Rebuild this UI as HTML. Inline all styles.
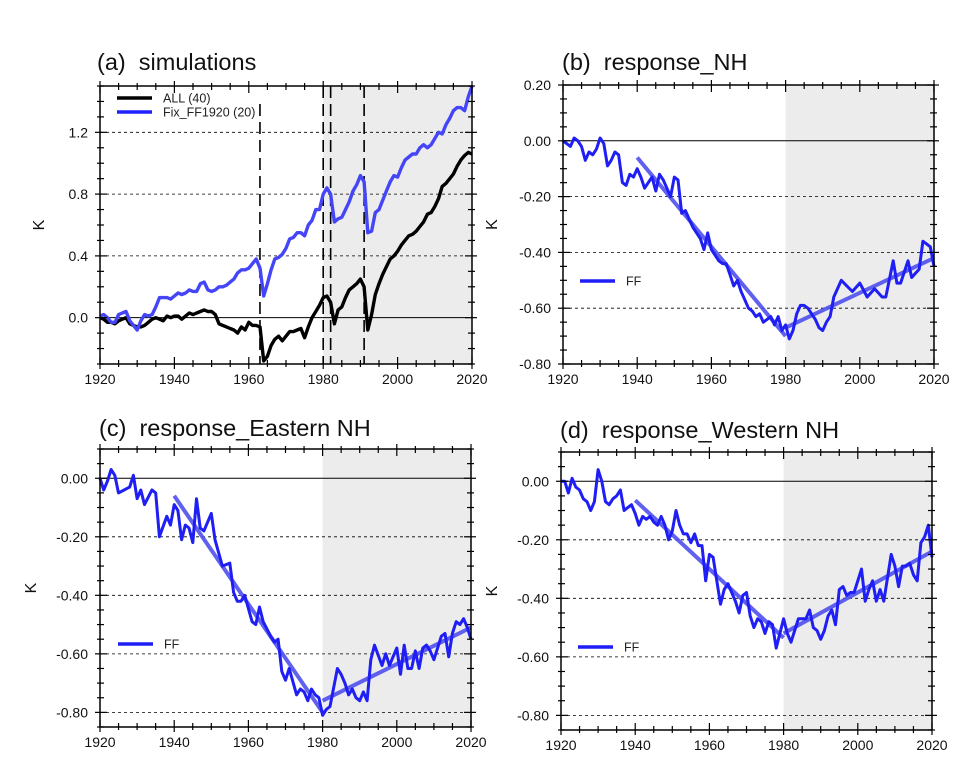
<!DOCTYPE html>
<html><head><meta charset="utf-8">
<style>
html,body{margin:0;padding:0;background:#fff;}
svg{display:block;font-family:"Liberation Sans",Arial,sans-serif;}
</style></head>
<body>
<svg id="fig" width="966" height="777" viewBox="0 0 966 777" xmlns="http://www.w3.org/2000/svg"></svg>
<script>
// ---- Panel (a) data ----
const yearsA = [1920,1921,1922,1923,1924,1925,1926,1927,1928,1929,1930,1931,1932,1933,1934,1935,1936,1937,1938,1939,1940,1941,1942,1943,1944,1945,1946,1947,1948,1949,1950,1951,1952,1953,1954,1955,1956,1957,1958,1959,1960,1961,1962,1963,1964,1965,1966,1967,1968,1969,1970,1971,1972,1973,1974,1975,1976,1977,1978,1979,1980,1981,1982,1983,1984,1985,1986,1987,1988,1989,1990,1991,1992,1993,1994,1995,1996,1997,1998,1999,2000,2001,2002,2003,2004,2005,2006,2007,2008,2009,2010,2011,2012,2013,2014,2015,2016,2017,2018,2019,2020];
const allValues = [0,-0.01,-0.03,-0.03,-0.04,-0.02,-0.01,0,-0.04,-0.05,-0.06,-0.06,-0.05,-0.03,-0.01,0,-0.01,-0.02,0.01,0,0.01,0.01,-0.01,0.01,0.03,0.02,0.03,0.04,0.05,0.04,0.04,0.02,-0.04,-0.05,-0.06,-0.07,-0.08,-0.1,-0.06,-0.08,-0.03,-0.05,-0.05,-0.06,-0.28,-0.25,-0.18,-0.14,-0.12,-0.15,-0.12,-0.09,-0.09,-0.08,-0.07,-0.13,-0.06,0.0,0.04,0.08,0.13,0.14,0.10,-0.04,0.05,0.07,0.13,0.18,0.2,0.22,0.25,0.2,-0.08,0.02,0.15,0.22,0.28,0.33,0.38,0.4,0.43,0.47,0.5,0.53,0.54,0.56,0.59,0.62,0.67,0.68,0.72,0.77,0.85,0.87,0.9,0.93,0.98,1.02,1.05,1.07,1.06];
const fixValues = [0.01,0.02,0.0,-0.03,-0.03,0.02,0.03,0.04,-0.02,-0.05,-0.08,-0.02,0.02,0.01,0.02,0.07,0.13,0.13,0.13,0.12,0.14,0.16,0.15,0.16,0.18,0.17,0.17,0.22,0.23,0.18,0.17,0.18,0.2,0.2,0.21,0.23,0.25,0.29,0.31,0.31,0.32,0.35,0.38,0.32,0.14,0.22,0.31,0.38,0.39,0.41,0.45,0.51,0.52,0.55,0.55,0.53,0.6,0.63,0.7,0.7,0.8,0.84,0.8,0.62,0.64,0.65,0.7,0.75,0.82,0.86,0.92,0.88,0.55,0.56,0.68,0.7,0.76,0.82,0.88,0.92,0.91,0.97,1.02,1.04,1.06,1.06,1.1,1.12,1.1,1.12,1.16,1.2,1.19,1.25,1.29,1.34,1.36,1.36,1.34,1.43,1.5];
const eruptionYears = [1963,1980,1982,1991];

// ---- Panel (b) NH ----
const yearsB = [1920,1921,1922,1923,1924,1925,1926,1927,1928,1929,1930,1931,1932,1933,1934,1935,1936,1937,1938,1939,1940,1941,1942,1943,1944,1945,1946,1947,1948,1949,1950,1951,1952,1953,1954,1955,1956,1957,1958,1959,1960,1961,1962,1963,1964,1965,1966,1967,1968,1969,1970,1971,1972,1973,1974,1975,1976,1977,1978,1979,1980,1981,1982,1983,1984,1985,1986,1987,1988,1989,1990,1991,1992,1993,1995,1996.5,1998,2000,2002,2004,2006,2007,2009,2010,2011,2013,2014,2016,2017,2019,2020];
const nhValues = [0,-0.01,-0.02,0.01,0,-0.02,-0.07,-0.04,-0.05,-0.03,0.01,-0.01,-0.09,-0.07,-0.04,-0.05,-0.15,-0.16,-0.12,-0.13,-0.1,-0.13,-0.17,-0.15,-0.13,-0.18,-0.12,-0.14,-0.17,-0.2,-0.13,-0.14,-0.26,-0.25,-0.28,-0.31,-0.33,-0.35,-0.39,-0.33,-0.39,-0.41,-0.43,-0.44,-0.44,-0.48,-0.52,-0.5,-0.54,-0.57,-0.6,-0.61,-0.63,-0.62,-0.65,-0.64,-0.63,-0.66,-0.63,-0.68,-0.66,-0.71,-0.68,-0.62,-0.59,-0.59,-0.6,-0.62,-0.64,-0.67,-0.68,-0.65,-0.63,-0.56,-0.5,-0.52,-0.54,-0.51,-0.56,-0.53,-0.56,-0.56,-0.43,-0.51,-0.51,-0.43,-0.49,-0.46,-0.36,-0.38,-0.45];
const nhTrendYears = [1940,1980,1980,2020];
const nhTrendValues = [-0.06,-0.70,-0.67,-0.42];

// ---- Panel (c) Eastern NH ----
const yearsC = [1920,1921,1922,1923,1924,1925,1926.5,1928,1929,1930,1931,1932,1934,1935,1936,1938,1939,1940,1941,1942,1943,1944,1945,1946,1947,1948,1950,1951,1953,1955,1956,1957,1958,1959,1961,1962,1963,1964,1966,1967,1968,1969,1970,1971,1973,1974,1975,1976,1977,1978,1979,1980,1981,1982,1984,1985,1986,1987,1988,1989,1990,1991,1992,1993,1994,1996,1997,1998,2000,2001,2002,2003,2004,2005,2006,2007,2008,2009,2010,2012,2013,2014,2015,2016,2017,2018,2019,2020];
const eastValues = [0,-0.04,-0.01,0.03,0.01,-0.05,-0.04,-0.03,0.01,-0.07,-0.04,-0.09,-0.04,-0.05,-0.2,-0.13,-0.16,-0.09,-0.11,-0.21,-0.16,-0.17,-0.22,-0.07,-0.17,-0.18,-0.12,-0.21,-0.3,-0.29,-0.39,-0.42,-0.42,-0.4,-0.49,-0.5,-0.44,-0.49,-0.54,-0.56,-0.55,-0.66,-0.69,-0.65,-0.74,-0.72,-0.73,-0.76,-0.72,-0.74,-0.75,-0.81,-0.79,-0.78,-0.65,-0.67,-0.7,-0.74,-0.72,-0.75,-0.76,-0.73,-0.76,-0.62,-0.57,-0.64,-0.6,-0.64,-0.58,-0.67,-0.57,-0.65,-0.65,-0.59,-0.65,-0.58,-0.57,-0.59,-0.62,-0.54,-0.53,-0.61,-0.53,-0.49,-0.5,-0.48,-0.51,-0.55];
const eastTrendYears = [1940,1980,1980,2020];
const eastTrendValues = [-0.06,-0.80,-0.76,-0.51];

// ---- Panel (d) Western NH ----
const yearsD = [1920,1921,1922,1923,1924,1925,1926,1927,1928,1929,1930,1931,1932,1933,1934,1935,1936,1937,1938,1939,1940,1941,1942,1943,1944,1945,1946,1947,1948,1949,1950,1951,1952,1953,1954,1955,1956,1957,1958,1959,1960,1961,1962,1963,1964,1965,1966,1967,1968,1969,1970,1971,1972,1973,1974,1975,1976,1977,1978,1979,1980,1981,1982,1983,1984,1985,1986,1987,1988,1989,1990,1991,1992,1993,1994,1995,1996,1997,1998,1999,2000,2001,2002,2003,2004,2005,2006,2007,2009,2010,2011,2012,2013,2014,2015,2016,2017,2018,2019,2020];
const westValues = [0,0,-0.04,0.01,-0.02,-0.03,-0.06,-0.07,-0.1,-0.07,0.04,0,-0.07,-0.08,-0.06,-0.05,-0.03,-0.1,-0.09,-0.08,-0.11,-0.15,-0.12,-0.13,-0.12,-0.14,-0.15,-0.12,-0.15,-0.2,-0.17,-0.1,-0.15,-0.18,-0.18,-0.21,-0.18,-0.22,-0.22,-0.34,-0.25,-0.26,-0.34,-0.42,-0.37,-0.35,-0.38,-0.41,-0.45,-0.39,-0.38,-0.46,-0.5,-0.47,-0.48,-0.52,-0.48,-0.49,-0.57,-0.52,-0.47,-0.52,-0.55,-0.51,-0.47,-0.47,-0.47,-0.44,-0.5,-0.51,-0.54,-0.51,-0.46,-0.44,-0.49,-0.37,-0.36,-0.39,-0.38,-0.38,-0.34,-0.3,-0.41,-0.37,-0.34,-0.41,-0.37,-0.41,-0.25,-0.29,-0.36,-0.29,-0.29,-0.28,-0.32,-0.34,-0.21,-0.19,-0.15,-0.26];
const westTrendYears = [1940,1980,1980,2020];
const westTrendValues = [-0.065,-0.535,-0.52,-0.24];

const xTickYears = [1920,1940,1960,1980,2000,2020];

const NS = "http://www.w3.org/2000/svg";
const svg = document.getElementById('fig');
function mk(tag, attrs, parent){
  const e = document.createElementNS(NS, tag);
  for (const k in attrs) e.setAttribute(k, attrs[k]);
  (parent||svg).appendChild(e);
  return e;
}

function panel(p){
  const g = mk('g', {});
  
  
  const sx = y => p.x0 + (y - 1920) / 100 * (p.x1 - p.x0);
  const sy = v => p.y0 + (p.vmax - v) / (p.vmax - p.vmin) * (p.y1 - p.y0);
  const sh = mk('rect', {x: sx(1980), y: p.y0, width: p.x1 - sx(1980), height: p.y1 - p.y0, fill: '#ececec'}, g);
  
  
  p.yTicks.forEach(v => {
    const l = mk('line', {x1: p.x0, x2: p.x1, y1: sy(v), y2: sy(v), stroke: '#000', 'stroke-width': Math.abs(v) < 1e-9 ? 1 : 0.8, 'stroke-dasharray': Math.abs(v) < 1e-9 ? '' : '3,3'}, g);
    
    
  });
  if (p.eruptions) p.eruptions.forEach(yr => {
    const l = mk('line', {x1: sx(yr), x2: sx(yr), y1: p.y0 + (yr === 1963 ? 18 : 0), y2: p.y1, stroke: '#000', 'stroke-width': 1.6, 'stroke-dasharray': '12,6'}, g);
    
    
  });
  p.series.forEach(s => {
    const d = s.years.map((yr, i) => (i ? 'L' : 'M') + sx(yr).toFixed(1) + ',' + sy(s.values[i]).toFixed(1)).join('');
    const pa = mk('path', {d: d, fill: 'none', stroke: s.color, 'stroke-width': s.w, 'stroke-linejoin': 'round', opacity: s.op || 1}, g);
    
    
  });
  const fr = mk('rect', {x: p.x0, y: p.y0, width: p.x1 - p.x0, height: p.y1 - p.y0, fill: 'none', stroke: '#000', 'stroke-width': 1.5}, g);
  
  
  for (let yr = 1920; yr <= 2020; yr += 5) {
    const major = yr % 20 === 0;
    const x = sx(yr);
    mk('line', {x1: x, x2: x, y1: p.y1 - (major ? 7 : 4), y2: p.y1 + (major ? 5 : 3), stroke: '#000', 'stroke-width': 1.2}, g);
    mk('line', {x1: x, x2: x, y1: p.y0 + (major ? 7 : 4), y2: p.y0 - (major ? 5 : 3), stroke: '#000', 'stroke-width': 1.2}, g);
  }
  xTickYears.forEach(yr => {
    const t = mk('text', {x: sx(yr), y: p.y1 + 20, 'font-size': 14, 'text-anchor': 'middle', fill: '#111'}, g);
    t.textContent = yr;
    
    
  });
  const nMinor = Math.round((p.vmax - p.vmin) / p.minorStep);
  for (let i = 0; i <= nMinor; i++) {
    const v = p.vmin + i * p.minorStep;
    const major = p.yTicks.some(t => Math.abs(t - v) < 1e-6);
    const y = sy(v);
    mk('line', {x1: p.x0 + (major ? 7 : 4), x2: p.x0 - (major ? 5 : 3), y1: y, y2: y, stroke: '#000', 'stroke-width': 1.2}, g);
    mk('line', {x1: p.x1 - (major ? 7 : 4), x2: p.x1 + (major ? 5 : 3), y1: y, y2: y, stroke: '#000', 'stroke-width': 1.2}, g);
  }
  p.yTicks.forEach((v, i) => {
    const t = mk('text', {x: p.x0 - 12, y: sy(v) + 5, 'font-size': 14, 'text-anchor': 'end', fill: '#111'}, g);
    t.textContent = p.yLabels[i];
    
    
  });
  const k = mk('text', {x: p.kx, y: (p.y0 + p.y1) / 2, 'font-size': 16, 'text-anchor': 'middle', transform: 'rotate(-90 ' + p.kx + ' ' + (p.y0 + p.y1) / 2 + ')', fill: '#111'}, g);
  k.textContent = 'K';
  
  
  const ti = mk('text', {x: p.tx, y: p.ty, 'font-size': 23.5, fill: '#111'}, g);
  ti.textContent = p.title;
  
  
  ti.setAttribute('xml:space', 'preserve');
  ti.style.whiteSpace = 'pre';
  p.legend.forEach(L => {
    const ll = mk('line', {x1: L.x, x2: L.x + 35, y1: L.y, y2: L.y, stroke: L.color, 'stroke-width': 3.4}, g);
    
    
    const lt = mk('text', {x: L.x + 46, y: L.y + 4.5, 'font-size': 12.5, fill: '#222'}, g);
    lt.textContent = L.text;
    
    
  });
}

const BLUE = '#1e1ef5';
const TREND = '#5050ee';

panel({name: 'panel-a-simulations', x0: 100, x1: 472, y0: 86, y1: 364, vmin: -0.3, vmax: 1.5,
  yTicks: [0, 0.4, 0.8, 1.2], yLabels: ['0.0', '0.4', '0.8', '1.2'], minorStep: 0.1,
  kx: 44, tx: 97, ty: 70, title: '(a)  simulations', eruptions: eruptionYears,
  series: [{name: 'all-series', years: yearsA, values: allValues, color: '#000', w: 3.4},
           {name: 'fix-ff1920-series', years: yearsA, values: fixValues, color: '#4545f8', w: 3.4}],
  legend: [{x: 117, y: 98, color: '#000', text: 'ALL (40)'}, {x: 117, y: 112, color: '#2020ff', text: 'Fix_FF1920 (20)'}]});

panel({name: 'panel-b-response-nh', x0: 563, x1: 934, y0: 85, y1: 364, vmin: -0.8, vmax: 0.2,
  yTicks: [0.2, 0, -0.2, -0.4, -0.6, -0.8], yLabels: ['0.20', '0.00', '-0.20', '-0.40', '-0.60', '-0.80'], minorStep: 0.05,
  kx: 497, tx: 562, ty: 70, title: '(b)  response_NH',
  series: [{name: 'nh-trend', years: nhTrendYears.slice(0,2), values: nhTrendValues.slice(0,2), color: TREND, w: 4, op: 0.9},
           {name: 'nh-trend-post1980', years: nhTrendYears.slice(2), values: nhTrendValues.slice(2), color: TREND, w: 4, op: 0.9},
           {name: 'nh-ff-series', years: yearsB, values: nhValues, color: BLUE, w: 3}],
  legend: [{x: 580, y: 281, color: BLUE, text: 'FF'}]});

panel({name: 'panel-c-response-eastern-nh', x0: 100, x1: 471, y0: 449, y1: 727, vmin: -0.85, vmax: 0.1,
  yTicks: [0, -0.2, -0.4, -0.6, -0.8], yLabels: ['0.00', '-0.20', '-0.40', '-0.60', '-0.80'], minorStep: 0.05,
  kx: 36, tx: 99, ty: 436, title: '(c)  response_Eastern NH',
  series: [{name: 'east-trend', years: eastTrendYears.slice(0,2), values: eastTrendValues.slice(0,2), color: TREND, w: 4, op: 0.9},
           {name: 'east-trend-post1980', years: eastTrendYears.slice(2), values: eastTrendValues.slice(2), color: TREND, w: 4, op: 0.9},
           {name: 'east-ff-series', years: yearsC, values: eastValues, color: BLUE, w: 3}],
  legend: [{x: 118, y: 644, color: BLUE, text: 'FF'}]});

panel({name: 'panel-d-response-western-nh', x0: 561, x1: 932, y0: 452, y1: 730, vmin: -0.85, vmax: 0.1,
  yTicks: [0, -0.2, -0.4, -0.6, -0.8], yLabels: ['0.00', '-0.20', '-0.40', '-0.60', '-0.80'], minorStep: 0.05,
  kx: 497, tx: 560, ty: 438, title: '(d)  response_Western NH',
  series: [{name: 'west-trend', years: westTrendYears.slice(0,2), values: westTrendValues.slice(0,2), color: TREND, w: 4, op: 0.9},
           {name: 'west-trend-post1980', years: westTrendYears.slice(2), values: westTrendValues.slice(2), color: TREND, w: 4, op: 0.9},
           {name: 'west-ff-series', years: yearsD, values: westValues, color: BLUE, w: 3}],
  legend: [{x: 578, y: 647, color: BLUE, text: 'FF'}]});
</script>
</body></html>
